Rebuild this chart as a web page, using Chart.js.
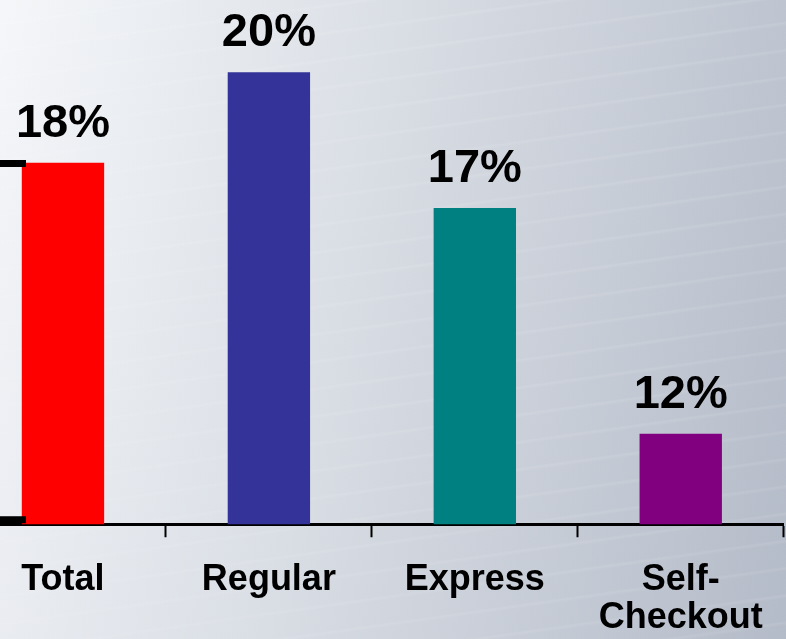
<!DOCTYPE html>
<html>
<head>
<meta charset="utf-8">
<script src="https://cdn.jsdelivr.net/npm/chart.js@4"></script>
<style>
  html, body { margin: 0; padding: 0; }
  body {
    width: 786px;
    height: 639px;
    overflow: hidden;
    position: relative;
    background:
      repeating-linear-gradient(172deg, rgba(255,255,255,0) 0px, rgba(255,255,255,0) 22px, rgba(255,255,255,0.10) 24px, rgba(255,255,255,0) 27px),
      linear-gradient(90deg, #f4f6f9 0%, #e4e8ed 30%, #d2d7df 60%, #bac1cd 100%);
  }
  .streaks {
    position: absolute; left: 0; top: 0; width: 786px; height: 639px;
    background: linear-gradient(180deg, rgba(255,255,255,0.06) 0%, rgba(110,120,145,0.08) 100%);
  }
  #wrap { position: absolute; left: -40px; top: 0; width: 826px; height: 661px; }
</style>
</head>
<body>
<div class="streaks"></div>
<div id="wrap"><canvas id="grafico"></canvas></div>
<script>
var categorias = ['Total', 'Regular', 'Express', ['Self-', 'Checkout']];
var valores = [18, 20, 17, 12];
var colores = ['#ff0000', '#333399', '#008080', '#800080'];
var marcasY = [10, 18];

var fuente = '"Liberation Sans", Arial, sans-serif';

// porcentajes encima de cada barra
var etiquetas = {
    id: 'etiquetas',
    afterDatasetsDraw: function(chart) {
        var ctx = chart.ctx;
        var meta = chart.getDatasetMeta(0);
        ctx.save();
        ctx.fillStyle = '#000';
        ctx.font = 'bold 47px ' + fuente;
        ctx.textAlign = 'center';
        ctx.textBaseline = 'alphabetic';
        meta.data.forEach(function(bar, i) {
            ctx.fillText(valores[i] + '%', bar.x, bar.y - 26);
        });
        ctx.restore();
    }
};

// marcas gruesas del eje vertical
var marcas = {
    id: 'marcas',
    afterDatasetsDraw: function(chart) {
        var ctx = chart.ctx;
        var y = chart.scales.y;
        var area = chart.chartArea;
        ctx.save();
        ctx.fillStyle = '#000';
        marcasY.forEach(function(v) {
            var py = Math.min(Math.round(y.getPixelForValue(v)) - 3, area.bottom - 8);
            ctx.fillRect(area.left, py, 66, 7);
        });
        ctx.restore();
    }
};

var ctx = document.getElementById('grafico').getContext('2d');
var myChart = new Chart(ctx, {
    type: 'bar',
    data: {
        labels: categorias,
        datasets: [{
            data: valores,
            backgroundColor: colores,
            borderWidth: 0,
            categoryPercentage: 1,
            barPercentage: 0.4
        }]
    },
    options: {
        responsive: true,
        maintainAspectRatio: false,
        animation: false,
        layout: { padding: { top: 0, right: 2, left: 0, bottom: 0 } },
        plugins: {
            legend: { display: false },
            tooltip: { enabled: false }
        },
        scales: {
            y: {
                display: false,
                min: 10,
                max: 21.6
            },
            x: {
                border: { display: true, color: '#000', width: 3 },
                grid: {
                    drawOnChartArea: false,
                    drawTicks: true,
                    tickLength: 13,
                    tickWidth: 2,
                    tickColor: '#000'
                },
                ticks: {
                    color: '#000',
                    padding: 23,
                    maxRotation: 0,
                    autoSkip: false,
                    font: { family: fuente, size: 36, weight: 'bold', lineHeight: 1.08 }
                }
            }
        }
    },
    plugins: [etiquetas, marcas]
});
</script>
</body>
</html>
